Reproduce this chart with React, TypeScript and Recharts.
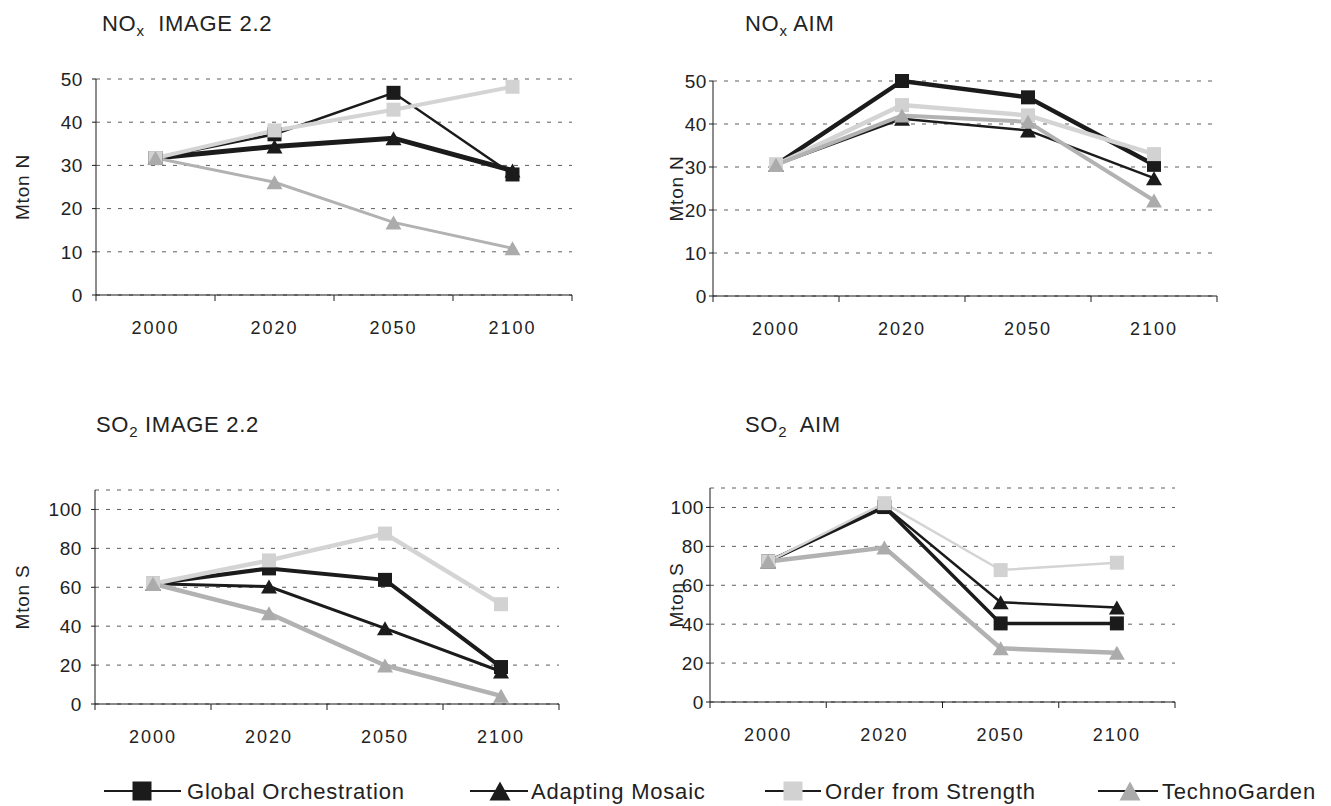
import { LineChart, Line, XAxis, YAxis, CartesianGrid, Label } from 'recharts';

const years = ['2000', '2020', '2050', '2100'];

// NOx, IMAGE 2.2 (Mton N)
const noxImageGO = [31.7, 37.2, 46.8, 27.9];
const noxImageAM = [31.7, 34.4, 36.3, 28.8];
const noxImageOFS = [31.7, 38.1, 42.9, 48.2];
const noxImageTG = [31.7, 26.1, 16.8, 10.8];

// NOx, AIM (Mton N)
const noxAimGO = [30.5, 50, 46.2, 30.5];
const noxAimAM = [30.5, 41.2, 38.5, 27.4];
const noxAimOFS = [30.5, 44.4, 42, 33];
const noxAimTG = [30.5, 42, 40.5, 22.2];

// SO2, IMAGE 2.2 (Mton S)
const so2ImageGO = [61.8, 69.7, 63.8, 19];
const so2ImageAM = [61.8, 60.4, 38.9, 16.7];
const so2ImageOFS = [61.8, 73.8, 87.6, 51.3];
const so2ImageTG = [61.8, 46.6, 19.8, 4.2];

// SO2, AIM (Mton S)
const so2AimGO = [72.2, 100.2, 40.4, 40.4];
const so2AimAM = [72.2, 100.6, 51.3, 48.6];
const so2AimOFS = [72.2, 102.2, 67.8, 71.6];
const so2AimTG = [72.2, 79.4, 27.6, 25.3];

const nTicks = [0, 10, 20, 30, 40, 50];
const sTicks = [0, 20, 40, 60, 80, 100];

const FONT = '"Liberation Sans", Arial, sans-serif';
const INK = '#1b1b1b';
const TEXT = '#222';

type Shape = 'square' | 'triangle';

const seriesMeta: { key: string; name: string; color: string; fill: string; shape: Shape }[] = [
  { key: 'go', name: 'Global Orchestration', color: INK, fill: INK, shape: 'square' },
  { key: 'am', name: 'Adapting Mosaic', color: INK, fill: INK, shape: 'triangle' },
  { key: 'ofs', name: 'Order from Strength', color: '#d4d4d4', fill: '#d2d2d2', shape: 'square' },
  { key: 'tg', name: 'TechnoGarden', color: '#b2b2b2', fill: '#ababab', shape: 'triangle' },
];

function buildRows(go: number[], am: number[], ofs: number[], tg: number[]) {
  return years.map((year, i) => ({ year, go: go[i], am: am[i], ofs: ofs[i], tg: tg[i] }));
}

function Marker({ cx, cy, shape, fill, size = 14 }: { cx?: number; cy?: number; shape: Shape; fill: string; size?: number }) {
  if (cx == null || cy == null) return null;
  const h = size / 2;
  if (shape === 'square') return <rect x={cx - h} y={cy - h} width={size} height={size} fill={fill} />;
  const w = h + 1;
  return <polygon points={`${cx},${cy - h} ${cx + w},${cy + h} ${cx - w},${cy + h}`} fill={fill} />;
}

type Panel = {
  left: number;
  top: number;
  width: number;
  height: number;
  margin: { top: number; right: number; bottom: number; left: number };
  yMax: number;
  ticks: number[];
  tickGap: number;
  yLabel: string;
  yLabelX: number;
  rows: ReturnType<typeof buildRows>;
  widths: number[];
};

const panels: Panel[] = [
  {
    left: 0, top: 0, width: 600, height: 360,
    margin: { top: 79, right: 28, bottom: 20, left: 56 },
    yMax: 50, ticks: nTicks, tickGap: 9, yLabel: 'Mton N', yLabelX: 22,
    rows: buildRows(noxImageGO, noxImageAM, noxImageOFS, noxImageTG),
    widths: [2.5, 5, 4, 3],
  },
  {
    left: 640, top: 0, width: 600, height: 360,
    margin: { top: 81, right: 23, bottom: 19, left: 33 },
    yMax: 50, ticks: nTicks, tickGap: 2, yLabel: 'Mton N', yLabelX: 36,
    rows: buildRows(noxAimGO, noxAimAM, noxAimOFS, noxAimTG),
    widths: [4.5, 2.5, 4.5, 4],
  },
  {
    left: 0, top: 400, width: 600, height: 360,
    margin: { top: 90, right: 41, bottom: 11, left: 55 },
    yMax: 110, ticks: sTicks, tickGap: 9, yLabel: 'Mton S', yLabelX: 22,
    rows: buildRows(so2ImageGO, so2ImageAM, so2ImageOFS, so2ImageTG),
    widths: [4, 3, 4.5, 4.5],
  },
  {
    left: 640, top: 400, width: 600, height: 360,
    margin: { top: 88, right: 65, bottom: 13, left: 30 },
    yMax: 110, ticks: sTicks, tickGap: 2, yLabel: 'Mton S', yLabelX: 36,
    rows: buildRows(so2AimGO, so2AimAM, so2AimOFS, so2AimTG),
    widths: [3.5, 2.5, 2.5, 4.5],
  },
];

const Y_AXIS_W = 40;
const X_AXIS_H = 45;

function YearTick(props: any) {
  const { x, y, payload, index, visibleTicksCount, step } = props;
  const last = index === visibleTicksCount - 1;
  return (
    <g>
      <line x1={x - step / 2} y1={y} x2={x - step / 2} y2={y + 6} stroke={INK} />
      {last && <line x1={x + step / 2} y1={y} x2={x + step / 2} y2={y + 6} stroke={INK} />}
      <text x={x} y={y + 33} dy="0.35em" textAnchor="middle" fontSize={18} fill={TEXT} letterSpacing={2}>
        {payload.value}
      </text>
    </g>
  );
}

function EmissionPanel({ p }: { p: Panel }) {
  const plotW = p.width - p.margin.left - p.margin.right - Y_AXIS_W;
  const step = plotW / years.length;
  return (
    <div style={{ position: 'absolute', left: p.left, top: p.top }}>
      <LineChart width={p.width} height={p.height} data={p.rows} margin={p.margin}>
        <CartesianGrid vertical={false} stroke="#5e5e5e" strokeDasharray="4 7" />
        <XAxis
          dataKey="year"
          height={X_AXIS_H}
          interval={0}
          padding={{ left: step / 2, right: step / 2 }}
          axisLine={{ stroke: INK }}
          tickLine={false}
          tickSize={0}
          tickMargin={0}
          tick={(t: any) => <YearTick {...t} step={step} />}
        />
        <YAxis
          width={Y_AXIS_W}
          domain={[0, p.yMax]}
          ticks={p.ticks}
          interval={0}
          axisLine={{ stroke: INK }}
          tickLine={{ stroke: INK }}
          tickSize={4}
          tickMargin={p.tickGap}
          tick={{ fontSize: 19, fill: TEXT, letterSpacing: 0.6 }}
        >
          <Label
            content={({ viewBox }: any) => {
              const cy = viewBox.y + viewBox.height / 2;
              return (
                <text
                  x={p.yLabelX}
                  y={cy}
                  transform={`rotate(-90 ${p.yLabelX} ${cy})`}
                  textAnchor="middle"
                  dy="0.35em"
                  fontSize={19}
                  letterSpacing={0.8}
                  fill={TEXT}
                >
                  {p.yLabel}
                </text>
              );
            }}
          />
        </YAxis>
        {seriesMeta.map((s, i) => (
          <Line
            key={s.key}
            dataKey={s.key}
            name={s.name}
            stroke={s.color}
            strokeWidth={p.widths[i]}
            strokeLinejoin="miter"
            isAnimationActive={false}
            dot={(d: any) => <Marker key={`${s.key}-${d.index}`} cx={d.cx} cy={d.cy} shape={s.shape} fill={s.fill} />}
            activeDot={false}
          />
        ))}
      </LineChart>
    </div>
  );
}

const titles = [
  { x: 102, y: 31, head: 'NO', sub: 'x', tail: '  IMAGE 2.2' },
  { x: 745, y: 31, head: 'NO', sub: 'x', tail: ' AIM' },
  { x: 96, y: 432, head: 'SO', sub: '2', tail: ' IMAGE 2.2' },
  { x: 745, y: 432, head: 'SO', sub: '2', tail: '  AIM' },
];

const legendItems = [
  { lineX1: 104, lineX2: 181, markX: 142, textX: 187 },
  { lineX1: 470, lineX2: 528, markX: 500, textX: 531 },
  { lineX1: 765, lineX2: 821, markX: 793, textX: 825 },
  { lineX1: 1098, lineX2: 1158, markX: 1130, textX: 1162 },
];

export default function App() {
  return (
    <div style={{ position: 'absolute', left: 0, top: 0, width: 1331, height: 806, background: '#fff', fontFamily: FONT }}>
      {panels.map((p, i) => (
        <EmissionPanel key={i} p={p} />
      ))}
      <svg width={1331} height={806} style={{ position: 'absolute', left: 0, top: 0, pointerEvents: 'none' }}>
        {titles.map((t, i) => (
          <text key={i} x={t.x} y={t.y} fontSize={22} letterSpacing={0.7} fill={TEXT} style={{ whiteSpace: 'pre' }}>
            {t.head}
            <tspan fontSize={15} dy={5}>{t.sub}</tspan>
            <tspan dy={-5}>{t.tail}</tspan>
          </text>
        ))}
        {seriesMeta.map((s, i) => {
          const l = legendItems[i];
          return (
            <g key={s.key}>
              <line x1={l.lineX1} y1={791} x2={l.lineX2} y2={791} stroke={INK} strokeWidth={2} />
              <Marker cx={l.markX} cy={791} shape={s.shape} fill={s.fill} size={19} />
              <text x={l.textX} y={799} fontSize={22} letterSpacing={0.8} fill={TEXT}>
                {s.name}
              </text>
            </g>
          );
        })}
      </svg>
    </div>
  );
}
